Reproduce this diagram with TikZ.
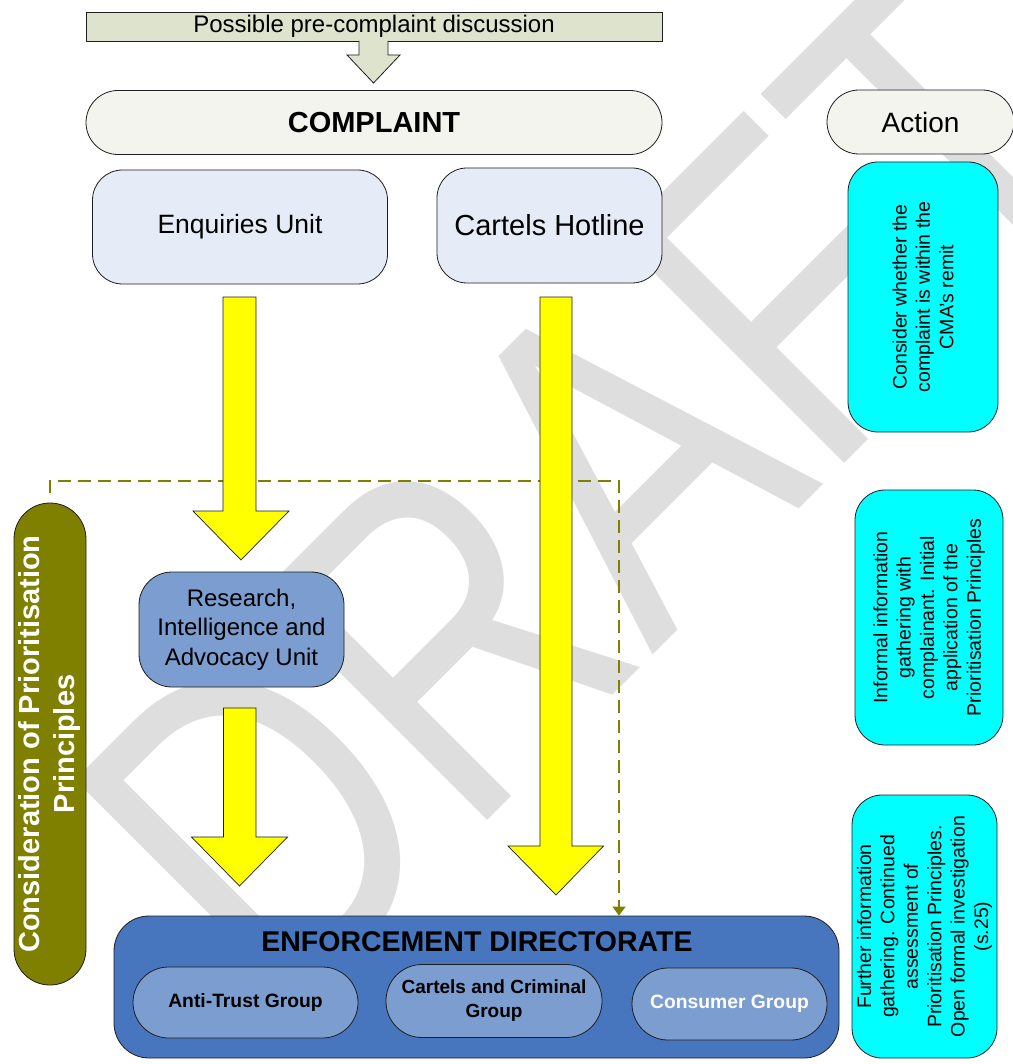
\documentclass[tikz,border=0pt]{standalone}
\usepackage{fontspec}
\setmainfont{Liberation Sans}
\usetikzlibrary{arrows.meta,calc}
\definecolor{preC}{RGB}{221,227,205}
\definecolor{compC}{RGB}{242,244,237}
\definecolor{lblue}{RGB}{230,236,247}
\definecolor{mblue}{RGB}{123,157,207}
\definecolor{dblue}{RGB}{72,118,190}
\definecolor{oliveC}{RGB}{128,128,0}
\definecolor{cyanC}{RGB}{0,255,255}
\definecolor{yellowC}{RGB}{255,255,0}
\definecolor{wmgray}{RGB}{222,222,222}
\definecolor{edgeC}{RGB}{30,30,30}
\newcommand\myfs[2]{\fontsize{#1}{#2}\selectfont}
\begin{document}
\begin{tikzpicture}[x=1pt,y=-1pt,
  base/.style={draw=edgeC, line width=0.8pt, inner sep=0pt, align=center, text=black},
  prebox/.style={base, fill=preC},
  pill/.style={base, fill=compC},
  unitbox/.style={base, fill=lblue, rounded corners=30pt},
  midbox/.style={base, fill=mblue},
  actbox/.style={base, fill=cyanC, rotate=90, rounded corners=30pt, font=\myfs{19.5}{23.4}},
  yarrow/.style={fill=yellowC, draw=edgeC, line width=0.7pt},
  dashcon/.style={draw=oliveC, line width=1.3pt, dash pattern=on 13pt off 7pt, -{Triangle[width=13pt,length=9pt]}}
]
\path[use as bounding box, fill=white] (0,0) rectangle (1012,1064);

% watermark
\begin{scope}[shift={(280,1028)}, cm={2.574,2.574,-3.288,3.288,(0pt,0pt)}]
  \node[anchor=base west, inner sep=0pt, text=wmgray, font=\myfs{100}{120}, transform shape] (wm) at (0,0) {DRAFT};
\end{scope}

% top
\node[prebox, minimum width=576pt, minimum height=29pt, font=\myfs{24}{29}] (pre) at (374,26.5) {Possible pre-complaint discussion};
\draw[prebox] (359,41) -- (359,55) -- (347,55) -- (373.5,83) -- (400,55) -- (388,55) -- (388,41);

\node[pill, minimum width=576pt, minimum height=64pt, rounded corners=32pt, font=\bfseries\myfs{29}{34}] (complaint) at (374,122.5) {COMPLAINT};
\node[pill, minimum width=187pt, minimum height=64pt, rounded corners=32pt, font=\myfs{28}{34}] (action) at (920.5,122) {Action};

\node[unitbox, minimum width=295pt, minimum height=114pt, font=\myfs{26.5}{32}] (enq) at (240,227) {Enquiries Unit};
\node[unitbox, minimum width=225pt, minimum height=115pt, font=\myfs{29}{35}] (hot) at (549.5,225.5) {Cartels Hotline};

% action boxes
\node[actbox, minimum width=270pt, minimum height=150pt] (act1) at (923,297) {Consider whether the\\complaint is within the\\CMA’s remit};
\node[actbox, minimum width=255pt, minimum height=148pt] (act2) at (929,617.5) {Informal information\\gathering with\\complainant. Initial\\application of the\\Prioritisation Principles};
\node[actbox, minimum width=263pt, minimum height=145pt] (act3) at (924.5,926.5) {Further information\\gathering. Continued\\assessment of\\Prioritisation Principles.\\Open formal investigation\\(s.25)};

% research unit
\node[midbox, minimum width=205pt, minimum height=115pt, rounded corners=33pt, font=\myfs{24}{29.5}] (res) at (241.5,629.5) {Research,\\Intelligence and\\Advocacy Unit};

% prioritisation pill
\node[base, fill=oliveC, rotate=90, minimum width=482pt, minimum height=72pt, rounded corners=36pt, text=white, font=\bfseries\myfs{29}{35}] (cons) at (50,744) {Consideration of Prioritisation\\Principles};

% enforcement directorate
\node[base, fill=dblue, minimum width=725pt, minimum height=142pt, rounded corners=35pt] (ed) at (476.5,987) {};
\node[inner sep=0pt, font=\bfseries\myfs{28.5}{34}] (edt) at (477,942) {ENFORCEMENT DIRECTORATE};
\node[midbox, minimum width=225pt, minimum height=71pt, rounded corners=35.5pt, font=\bfseries\myfs{19.3}{24}] (atg) at (245.5,1002.5) {Anti-Trust Group};
\node[midbox, minimum width=216pt, minimum height=73pt, rounded corners=36pt, font=\bfseries\myfs{19}{24}] (ccg) at (494,1001) {Cartels and Criminal\\Group};
\node[midbox, minimum width=195pt, minimum height=72pt, rounded corners=36pt, text=white, font=\bfseries\myfs{19.3}{24}] (cg) at (729.5,1004) {Consumer Group};

% dashed connector
\coordinate (dturn) at (619,481);
\draw[dashcon] ([yshift=10pt]cons.east) |- (dturn) -- (dturn |- ed.north);

% yellow block arrows
\draw[yarrow] (223,297) -- (256,297) -- (256,511) -- (289,511) -- (241,560) -- (193,511) -- (223,511) -- cycle;
\draw[yarrow] (223.5,708) -- (256,708) -- (256,837) -- (287.5,837) -- (239.5,886) -- (191.5,837) -- (223.5,837) -- cycle;
\draw[yarrow] (540,297) -- (572,297) -- (572,846) -- (603.5,846) -- (556,895) -- (508,846) -- (540,846) -- cycle;
\end{tikzpicture}
\end{document}
